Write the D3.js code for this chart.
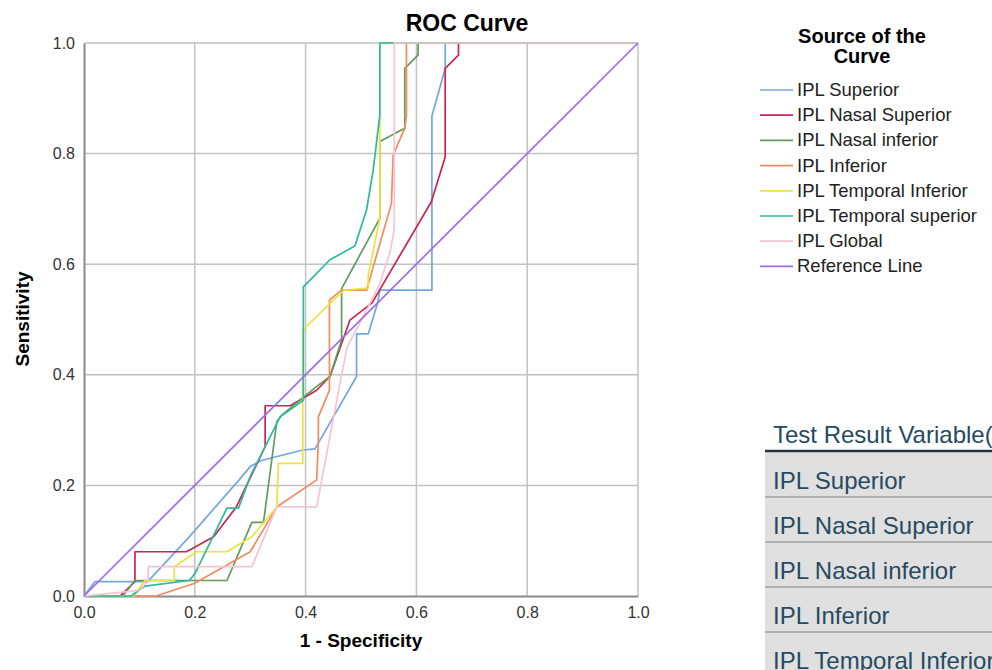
<!DOCTYPE html>
<html>
<head>
<meta charset="utf-8">
<script src="https://cdn.jsdelivr.net/npm/d3@7"></script>
<style>
  body { margin: 0; background: #fff; }
  svg { font-family: "Liberation Sans", Arial, sans-serif; }
</style>
</head>
<body>
<svg id="chart" width="992" height="670"></svg>
<script>
// curve names, in legend order
var seriesNames = ["IPL Superior", "IPL Nasal Superior", "IPL Nasal inferior", "IPL Inferior",
  "IPL Temporal Inferior", "IPL Temporal superior", "IPL Global", "Reference Line"];
var seriesColors = ["#74a6e0", "#c8264f", "#5e9e5a", "#f38b5e", "#ebe33e", "#2cb9a0", "#f7c3d2", "#a469ef"];

// [1 - specificity, sensitivity]
var superiorPts = [[0,0],[0.02,0.026],[0.115,0.026],[0.19,0.107],[0.28,0.21],[0.3,0.234],[0.32,0.245],
  [0.395,0.264],[0.417,0.266],[0.426,0.282],[0.492,0.397],[0.492,0.474],[0.513,0.474],[0.53,0.53],
  [0.534,0.553],[0.628,0.553],[0.628,0.868],[0.652,0.954],[0.652,1],[1,1]];
var nasalSupPts = [[0,0],[0.065,0],[0.092,0.026],[0.092,0.08],[0.185,0.08],[0.234,0.107],[0.275,0.161],
  [0.324,0.264],[0.327,0.27],[0.327,0.344],[0.372,0.344],[0.42,0.372],[0.444,0.397],[0.48,0.499],
  [0.52,0.53],[0.627,0.713],[0.652,0.794],[0.652,0.954],[0.676,0.978],[0.676,1],[1,1]];
var nasalInfPts = [[0,0],[0.07,0],[0.092,0.028],[0.258,0.028],[0.303,0.133],[0.324,0.133],[0.348,0.315],
  [0.357,0.327],[0.42,0.379],[0.444,0.397],[0.465,0.463],[0.465,0.556],[0.534,0.683],[0.534,0.822],
  [0.579,0.846],[0.579,0.954],[0.603,0.978],[0.603,1],[1,1]];
var inferiorPts = [[0,0],[0.13,0],[0.2,0.023],[0.3,0.08],[0.348,0.161],[0.42,0.21],[0.423,0.28],
  [0.423,0.324],[0.443,0.372],[0.443,0.535],[0.465,0.553],[0.51,0.553],[0.555,0.71],[0.558,0.797],
  [0.579,0.846],[0.582,0.867],[0.582,1],[1,1]];
var temporalInfPts = [[0,0],[0.09,0],[0.11,0.028],[0.163,0.028],[0.163,0.053],[0.203,0.08],[0.258,0.08],
  [0.303,0.107],[0.348,0.161],[0.351,0.24],[0.395,0.24],[0.395,0.481],[0.45,0.535],[0.47,0.553],
  [0.513,0.557],[0.513,0.58],[0.534,0.683],[0.534,1],[1,1]];
var temporalSupPts = [[0,0],[0.085,0],[0.11,0.018],[0.19,0.028],[0.2,0.04],[0.258,0.159],[0.279,0.159],
  [0.3,0.216],[0.354,0.324],[0.396,0.354],[0.396,0.559],[0.444,0.608],[0.489,0.633],[0.51,0.698],
  [0.522,0.77],[0.534,0.87],[0.534,1],[1,1]];
var globalPts = [[0,0],[0.1,0.01],[0.116,0.028],[0.116,0.053],[0.303,0.053],[0.348,0.161],[0.42,0.161],
  [0.465,0.4],[0.475,0.45],[0.513,0.523],[0.534,0.565],[0.552,0.62],[0.56,0.662],[0.56,1],[1,1]];
var referencePts = [[0,0],[1,1]];

var seriesPts = [superiorPts, nasalSupPts, nasalInfPts, inferiorPts, temporalInfPts, temporalSupPts, globalPts, referencePts];

var tickValues = [0, 0.2, 0.4, 0.6, 0.8, 1.0];
var tableRows = ["IPL Superior", "IPL Nasal Superior", "IPL Nasal inferior", "IPL Inferior", "IPL Temporal Inferior"];

var svg = d3.select("#chart");
var plotLeft = 84, plotRight = 638, plotTop = 43, plotBottom = 596;

var x = d3.scaleLinear().domain([0, 1]).range([plotLeft, plotRight]);
var y = d3.scaleLinear().domain([0, 1]).range([plotBottom, plotTop]);

// grid
var grid = svg.append("g").attr("stroke", "#c2c2c2").attr("stroke-width", 1.5);
grid.selectAll(".gx").data(tickValues.slice(1)).enter().append("line")
    .attr("x1", function(d) { return x(d); }).attr("x2", function(d) { return x(d); })
    .attr("y1", plotTop).attr("y2", plotBottom);
grid.selectAll(".gy").data(tickValues.slice(1)).enter().append("line")
    .attr("y1", function(d) { return y(d); }).attr("y2", function(d) { return y(d); })
    .attr("x1", plotLeft).attr("x2", plotRight);

// axes
var xAxis = svg.append("g").attr("transform", "translate(0," + plotBottom + ")")
    .call(d3.axisBottom(x).tickValues(tickValues).tickFormat(d3.format(".1f")).tickSize(0).tickPadding(11));
var yAxis = svg.append("g").attr("transform", "translate(" + plotLeft + ",0)")
    .call(d3.axisLeft(y).tickValues(tickValues).tickFormat(d3.format(".1f")).tickSize(0).tickPadding(9));
[xAxis, yAxis].forEach(function(a) {
  a.select(".domain").attr("stroke", "#8a8a8a").attr("stroke-width", 2);
  a.selectAll("text").attr("font-size", 16).attr("fill", "#333")
    .attr("font-family", "Liberation Sans, Arial, sans-serif");
});

// curves
var line = d3.line().x(function(d) { return x(d[0]); }).y(function(d) { return y(d[1]); });
svg.append("g").selectAll("path").data(seriesPts).enter().append("path")
    .attr("d", line)
    .attr("fill", "none")
    .attr("stroke", function(d, i) { return seriesColors[i]; })
    .attr("stroke-width", 1.7)
    .attr("stroke-linejoin", "round");

// titles
svg.append("text").attr("x", 467).attr("y", 31).attr("text-anchor", "middle")
    .attr("font-size", 23).attr("font-weight", "bold").text("ROC Curve");
svg.append("text").attr("x", 361).attr("y", 647).attr("text-anchor", "middle")
    .attr("font-size", 19).attr("font-weight", "bold").text("1 - Specificity");
svg.append("text").attr("transform", "translate(29,319)rotate(-90)").attr("text-anchor", "middle")
    .attr("font-size", 19).attr("font-weight", "bold").text("Sensitivity");

// legend
var legend = svg.append("g");
legend.append("text").attr("x", 862).attr("y", 43).attr("text-anchor", "middle")
    .attr("font-size", 20).attr("font-weight", "bold").text("Source of the");
legend.append("text").attr("x", 862).attr("y", 63).attr("text-anchor", "middle")
    .attr("font-size", 20).attr("font-weight", "bold").text("Curve");
var item = legend.selectAll(".item").data(seriesNames).enter().append("g")
    .attr("transform", function(d, i) { return "translate(0," + (90 + i * 25.2) + ")"; });
item.append("line").attr("x1", 760).attr("x2", 793)
    .attr("stroke", function(d, i) { return seriesColors[i]; }).attr("stroke-width", 1.7);
item.append("text").attr("x", 797).attr("y", 6).attr("font-size", 18.5).attr("fill", "#222")
    .text(function(d) { return d; });

// table fragment, bottom right
var table = svg.append("g");
table.append("text").attr("x", 773).attr("y", 443).attr("font-size", 24).attr("fill", "#264a60")
    .text("Test Result Variable(s)");
table.append("rect").attr("x", 765).attr("y", 452).attr("width", 227).attr("height", 218).attr("fill", "#e0e0e0");
table.append("line").attr("x1", 765).attr("x2", 992).attr("y1", 451).attr("y2", 451)
    .attr("stroke", "#1d3646").attr("stroke-width", 2.5);
var row = table.selectAll(".row").data(tableRows).enter().append("g")
    .attr("transform", function(d, i) { return "translate(0," + (452 + i * 45) + ")"; });
row.append("line").attr("x1", 765).attr("x2", 992).attr("y1", 45).attr("y2", 45)
    .attr("stroke", "#b0b0b0").attr("stroke-width", 2);
row.append("text").attr("x", 773).attr("y", 37).attr("font-size", 24).attr("fill", "#264a60")
    .text(function(d) { return d; });
</script>
</body>
</html>
